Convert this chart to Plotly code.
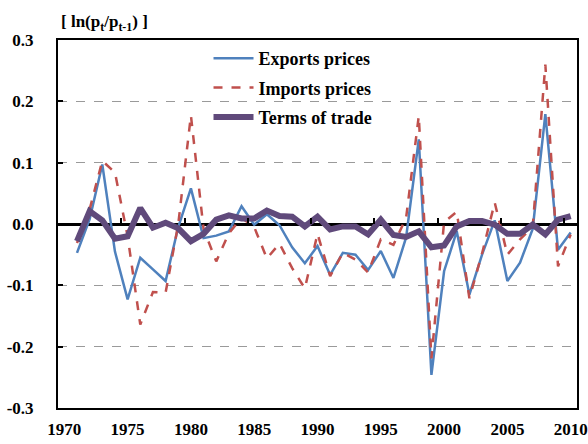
import plotly.graph_objects as go

years = list(range(1971, 2011))

exports = [-0.047, 0.008, 0.097, -0.045, -0.123, -0.055, -0.074, -0.093, -0.005, 0.058,
           -0.023, -0.019, -0.012, 0.029, -0.001, 0.016, -0.002, -0.038, -0.064, -0.036,
           -0.083, -0.047, -0.050, -0.075, -0.044, -0.088, -0.022, 0.138, -0.246, -0.077,
           -0.012, -0.115, -0.050, 0.006, -0.093, -0.063, -0.008, 0.179, -0.042, -0.014]

imports = [-0.031, 0.024, 0.103, 0.084, -0.020, -0.164, -0.111, -0.112, 0.000, 0.177,
           -0.008, -0.061, -0.015, 0.010, -0.005, -0.056, -0.032, -0.072, -0.105, -0.016,
           -0.085, -0.047, -0.058, -0.079, -0.025, -0.034, 0.010, 0.176, -0.219, 0.003,
           0.020, -0.121, -0.048, 0.035, -0.050, -0.025, -0.005, 0.260, -0.069, -0.017]

terms = [-0.028, 0.021, 0.006, -0.024, -0.020, 0.026, -0.006, 0.002, -0.007, -0.028,
         -0.016, 0.007, 0.014, 0.009, 0.009, 0.022, 0.013, 0.012, -0.004, 0.012,
         -0.009, -0.004, -0.004, -0.017, 0.007, -0.018, -0.021, -0.012, -0.038, -0.035,
         -0.004, 0.005, 0.005, -0.001, -0.016, -0.016, -0.001, -0.017, 0.007, 0.013]

x_tick_years = [1970, 1975, 1980, 1985, 1990, 1995, 2000, 2005, 2010]
x_tick_labels = ["<b>%d</b>" % y for y in x_tick_years]
y_tick_vals = [-0.3, -0.2, -0.1, 0.0, 0.1, 0.2, 0.3]
y_tick_labels = ["<b>%s</b>" % s for s in ["-0.3", "-0.2", "-0.1", "0.0", "0.1", "0.2", "0.3"]]
boundary_ticks = [y + 0.5 for y in range(1974, 2010, 5)]

FONT = "Liberation Serif"

fig = go.Figure()
fig.add_trace(go.Scatter(x=years, y=exports, mode="lines", name="<b>Exports prices</b>",
                         line=dict(color="#4F81BD", width=2.5), legendgroup="a"))
fig.add_trace(go.Scatter(x=years, y=imports, mode="lines", name="<b>Imports prices</b>",
                         line=dict(color="#C0504D", width=2.5, dash="dash"), legendgroup="b"))
fig.add_trace(go.Scatter(x=years, y=terms, mode="lines", name="<b>Terms of trade</b>",
                         line=dict(color="#604A7B", width=6), legendgroup="c"))
# helper trace for the tick marks drawn on the zero line
fig.add_trace(go.Scatter(x=[years[0]], y=[None], xaxis="x2", showlegend=False,
                         hoverinfo="skip", mode="lines"))

fig.update_layout(
    width=588, height=444,
    margin=dict(l=58, r=11, t=40, b=36, autoexpand=False),
    paper_bgcolor="white", plot_bgcolor="white",
    font=dict(family=FONT, size=17, color="black"),
    showlegend=True,
    legend=dict(x=0.29, y=1.0, xanchor="left", yanchor="top",
                bgcolor="rgba(0,0,0,0)", tracegroupgap=3,
                font=dict(family=FONT, size=18, color="black"), itemwidth=40),
    xaxis=dict(range=[1969.5, 2010.5], tickvals=x_tick_years, ticktext=x_tick_labels,
               ticks="", showgrid=False, zeroline=False, automargin=False,
               showline=True, linecolor="black", linewidth=2, mirror=True,
               tickfont=dict(family=FONT, size=17, color="black"),
               ticklabelstandoff=5),
    xaxis2=dict(range=[1969.5, 2010.5], overlaying="x", anchor="free", position=0.5,
                tickvals=boundary_ticks, ticks="inside", ticklen=6, tickwidth=2,
                tickcolor="black", showticklabels=False, showgrid=False,
                zeroline=False, showline=False, automargin=False),
    yaxis=dict(range=[-0.3, 0.3], tickvals=y_tick_vals, ticktext=y_tick_labels,
               ticks="inside", ticklen=5, tickwidth=2, tickcolor="black",
               showgrid=True, gridcolor="#9A9A9A", gridwidth=1.2, griddash="dash",
               zeroline=True, zerolinecolor="black", zerolinewidth=2.5,
               showline=True, linecolor="black", linewidth=2, mirror=True,
               automargin=False,
               tickfont=dict(family=FONT, size=17, color="black"),
               ticklabelstandoff=19),
)

fig.add_annotation(
    text="<b>[ ln(p<sub>t</sub>/p<sub>t-1</sub>) ]</b>",
    xref="paper", yref="paper", x=0.002, y=1.047, xanchor="left", yanchor="middle",
    showarrow=False, font=dict(family=FONT, size=17, color="black"),
)

fig.write_html(
    "out.html",
    config={"displayModeBar": False},
    post_script="document.body.style.margin='0';document.body.style.overflow='hidden';",
)
